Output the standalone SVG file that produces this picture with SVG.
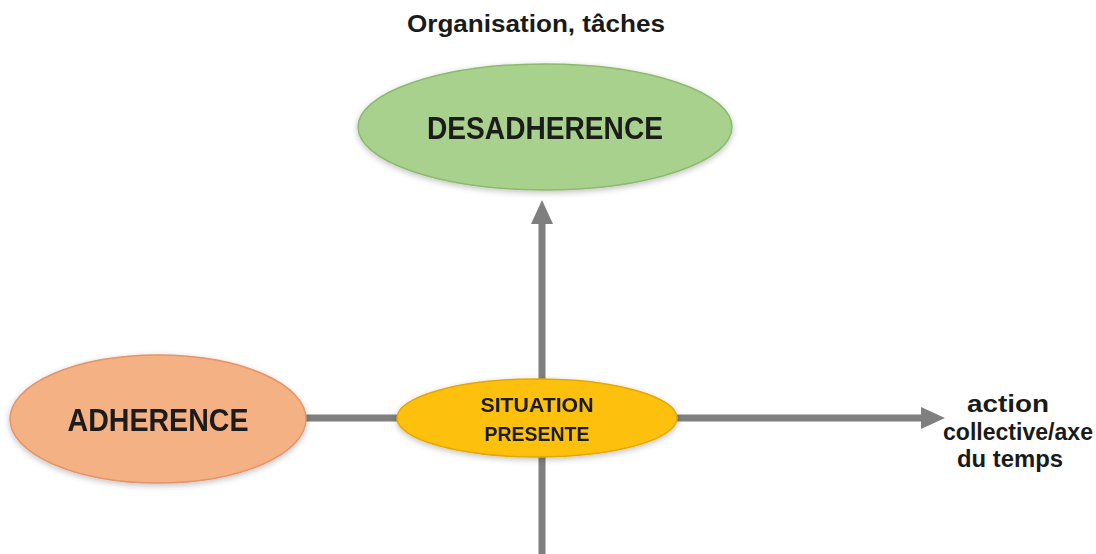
<svg xmlns="http://www.w3.org/2000/svg" width="1096" height="554" viewBox="0 0 1096 554">
  <defs>
    <style>
      .lbl { font-family: "Liberation Sans", Arial, sans-serif; font-weight: bold; fill: #1a1a1a; text-anchor: middle; }
      .axis { stroke: #7f7f7f; stroke-width: 7; fill: none; marker-end: url(#head); }
    </style>
    <marker id="head" viewBox="0 0 24 22" markerWidth="24" markerHeight="22" refX="9" refY="11" markerUnits="userSpaceOnUse" orient="auto">
      <path d="M0,0 L24,11 L0,22 z" fill="#7f7f7f"/>
    </marker>
    <filter id="soft" x="-10%" y="-20%" width="120%" height="140%">
      <feGaussianBlur in="SourceAlpha" stdDeviation="3"/>
      <feOffset dy="2"/>
      <feComponentTransfer><feFuncA type="linear" slope="0.25"/></feComponentTransfer>
      <feMerge><feMergeNode/><feMergeNode in="SourceGraphic"/></feMerge>
    </filter>
  </defs>
  <rect width="1096" height="554" fill="#ffffff"/>

  <!-- axes -->
  <g id="connectors">
    <line class="axis" x1="542" y1="554" x2="542" y2="215"/>
    <line class="axis" x1="300" y1="418" x2="930" y2="418"/>
  </g>

  <!-- axis captions -->
  <text id="title" class="lbl" x="536" y="32" font-size="23" textLength="258" lengthAdjust="spacingAndGlyphs">Organisation, tâches</text>
  <g id="time-axis-label">
    <text class="lbl" x="1008" y="412" font-size="23" textLength="82" lengthAdjust="spacingAndGlyphs">action</text>
    <text class="lbl" x="1018" y="440" font-size="23" textLength="150" lengthAdjust="spacingAndGlyphs">collective/axe</text>
    <text class="lbl" x="1010" y="467" font-size="23" textLength="106" lengthAdjust="spacingAndGlyphs">du temps</text>
  </g>

  <g id="desadherence" filter="url(#soft)">
    <ellipse cx="545" cy="127" rx="187" ry="63" fill="#a9d18e" stroke="#8cba6c" stroke-width="1.5"/>
    <text class="lbl" x="545" y="139" font-size="32" textLength="236" lengthAdjust="spacingAndGlyphs">DESADHERENCE</text>
  </g>

  <g id="adherence" filter="url(#soft)">
    <ellipse cx="158" cy="419" rx="148" ry="64" fill="#f4b183" stroke="#e5936a" stroke-width="1.5"/>
    <text class="lbl" x="158" y="431" font-size="31" textLength="181" lengthAdjust="spacingAndGlyphs">ADHERENCE</text>
  </g>

  <g id="situation" filter="url(#soft)">
    <ellipse cx="537" cy="418" rx="140" ry="39" fill="#fdc010" stroke="#e5a800" stroke-width="1.5"/>
    <text class="lbl" x="537" y="412" font-size="21" textLength="113" lengthAdjust="spacingAndGlyphs">SITUATION</text>
    <text class="lbl" x="537" y="441" font-size="21" textLength="105" lengthAdjust="spacingAndGlyphs">PRESENTE</text>
  </g>
</svg>
